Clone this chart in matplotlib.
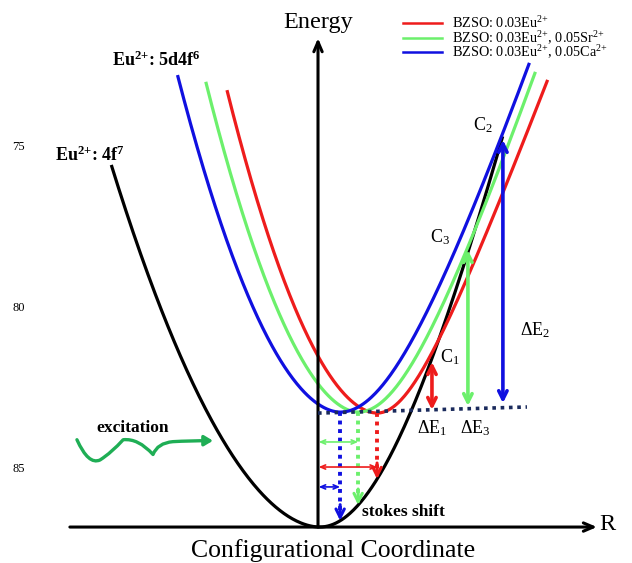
import numpy as np
import matplotlib
matplotlib.use("Agg")
import matplotlib.pyplot as plt
from matplotlib.path import Path
from matplotlib.patches import FancyArrowPatch

plt.rcParams['font.family'] = ['Liberation Serif', 'DejaVu Serif']
plt.rcParams['mathtext.fontset'] = 'custom'
plt.rcParams['mathtext.rm'] = 'Liberation Serif'
plt.rcParams['mathtext.it'] = 'Liberation Serif:italic'
plt.rcParams['mathtext.bf'] = 'Liberation Serif:bold'

SUP = r"$^{\mathrm{2}\mathrm{+}}$"
SUPB = r"$^{\mathbf{2}\mathbf{+}}$"

# ---- potential-energy curves (configurational coordinate R, energy E) ----
curve_labels = ["Eu" + SUP + ": 4f$^{7}$",
                "BZSO: 0.03Eu" + SUP,
                "BZSO: 0.03Eu" + SUP + ", 0.05Sr" + SUP,
                "BZSO: 0.03Eu" + SUP + ", 0.05Ca" + SUP]
curve_colors = ["black", "#ee1c1c", "#6cf06c", "#1010e0"]
min_r = [0.05, 1.84, 1.25, 0.69]
min_e = [86.87, 83.32, 83.29, 83.29]
# left branch: E = Emin - k*|dR|^p
k_left = [0.348, 0.571, 0.586, 0.505]
p_left = [1.86, 1.86, 1.84, 1.87]
# right branch: E = Emin - s*(sqrt(dR^2 + w^2) - w)
s_right = [4.5, 2.7, 3.0, 3.0]
w_right = [4.66, 1.75, 2.55, 2.98]
top_left = [75.59, 73.26, 73.00, 72.79]
top_right = [74.70, 72.94, 72.69, 72.41]

# ---- energy transfer arrows (crossing points C1, C3, C2) ----
de_r = [3.55, 4.67, 5.76]
de_top = [81.73, 78.24, 74.81]
de_bottom = [83.22, 83.10, 83.01]
de_colors = ["#ee1c1c", "#6cf06c", "#1010e0"]

# relaxed excited-state level (dotted)
level_r = [0.0, 6.51]
level_e = [83.32, 83.13]

# stokes shift markers (horizontal arrows), order: red, green, blue
shift_e = [85.00, 84.22, 85.62]

yticks = [75, 80, 85]


def rise(i, d):
    if d < 0:
        return k_left[i] * (-d) ** p_left[i]
    return s_right[i] * (np.sqrt(d ** 2 + w_right[i] ** 2) - w_right[i])


def branch(i, side):
    if side < 0:
        dmax = ((min_e[i] - top_left[i]) / k_left[i]) ** (1.0 / p_left[i])
        d = np.linspace(0, dmax, 200)
        return min_r[i] - d, min_e[i] - k_left[i] * d ** p_left[i]
    h = (min_e[i] - top_right[i]) / s_right[i] + w_right[i]
    dmax = np.sqrt(h ** 2 - w_right[i] ** 2)
    d = np.linspace(0, dmax, 200)
    return min_r[i] + d, min_e[i] - s_right[i] * (np.sqrt(d ** 2 + w_right[i] ** 2) - w_right[i])


def curve_e(i, r):
    return min_e[i] - rise(i, r - min_r[i])


fig = plt.figure(figsize=(6.32, 5.63), dpi=100)
ax = fig.add_axes([0, 0, 1, 1])
ax.set_xlim(-9.907, 9.782)
ax.set_ylim(87.99, 70.452)
for s in ax.spines.values():
    s.set_visible(False)
ax.set_xticks([])
ax.set_yticks(yticks)
ax.tick_params(axis='y', length=0, pad=-18, labelsize=9)

# curves
for i in range(4):
    rl, el = branch(i, -1)
    rr, er = branch(i, 1)
    r = np.concatenate([rl[::-1], rr[1:]])
    e = np.concatenate([el[::-1], er[1:]])
    ax.plot(r, e, color=curve_colors[i], lw=2.3, solid_capstyle='butt', zorder=3)

# axes arrows
ax.annotate('', xy=(0, 71.64), xytext=(0, 86.87),
            arrowprops=dict(arrowstyle='->,head_length=0.7,head_width=0.3',
                            lw=2.2, color='black', shrinkA=0, shrinkB=0), zorder=4)
ax.annotate('', xy=(8.69, 86.87), xytext=(-7.73, 86.87),
            arrowprops=dict(arrowstyle='->,head_length=0.7,head_width=0.3',
                            lw=2.2, color='black', shrinkA=0, shrinkB=0), zorder=4)

# relaxed level
ax.plot(level_r, level_e, color='#1a2a5c', lw=2.6, ls=(0, (1, 1.3)), zorder=5)

# energy transfer arrows
for r, t, b, c in zip(de_r, de_top, de_bottom, de_colors):
    ax.annotate('', xy=(r, b), xytext=(r, t),
                arrowprops=dict(arrowstyle='<->,head_length=0.6,head_width=0.3',
                                lw=2.6, color=c, shrinkA=0, shrinkB=0), zorder=6)

# emission (dotted) arrows down to the ground state curve and stokes shifts
for j, i in enumerate([1, 2, 3]):
    r0 = min_r[i]
    e_end = curve_e(0, r0)
    ax.plot([r0, r0], [min_e[i], e_end - 0.25], color=curve_colors[i], lw=2.8,
            ls=(0, (1, 1.2)), zorder=5)
    ax.annotate('', xy=(r0, e_end), xytext=(r0, e_end - 0.5),
                arrowprops=dict(arrowstyle='->,head_length=0.6,head_width=0.3',
                                lw=2.2, color=curve_colors[i], shrinkA=0, shrinkB=0), zorder=6)
    ax.annotate('', xy=(r0, shift_e[j]), xytext=(0.02, shift_e[j]),
                arrowprops=dict(arrowstyle='<->,head_length=0.35,head_width=0.15',
                                lw=1.2, color=curve_colors[i], shrinkA=0, shrinkB=0), zorder=6)

# excitation squiggle
wave = Path([(-7.51, 84.15), (-7.15, 84.95), (-6.79, 84.78),
             (-6.43, 84.55), (-6.07, 84.15),
             (-5.60, 84.10), (-5.14, 84.61),
             (-5.00, 84.25), (-4.52, 84.21),
             (-4.0, 84.18), (-3.27, 84.18)],
            [Path.MOVETO, Path.CURVE3, Path.CURVE3, Path.CURVE3, Path.CURVE3,
             Path.CURVE3, Path.CURVE3, Path.CURVE3, Path.CURVE3,
             Path.CURVE3, Path.CURVE3])
ax.add_patch(FancyArrowPatch(path=wave, arrowstyle='-|>,head_length=5,head_width=3',
                             lw=2.4, color='#1fae55', zorder=6))

# legend
leg_e = [71.17, 71.64, 72.07]
for i, e in zip([1, 2, 3], leg_e):
    ax.plot([2.65, 3.86], [e, e], color=curve_colors[i], lw=1.8)
    ax.text(4.17, e, curve_labels[i], fontsize=10.3, va='center', ha='left')

# labels
ax.text(0, 71.14, 'Energy', fontsize=17.5, ha='center', va='center')
ax.text(9.0, 86.80, 'R', fontsize=17.5, ha='center', va='center')
ax.text(0.47, 87.59, 'Configurational Coordinate', fontsize=18.5, ha='center', va='center')
ax.text(-6.42, 72.32, 'Eu' + SUPB + r': 5d4f$^{\mathbf{6}}$', fontsize=13,
        fontweight='bold', ha='left', va='center')
ax.text(-8.19, 75.28, 'Eu' + SUPB + r': 4f$^{\mathbf{7}}$', fontsize=13,
        fontweight='bold', ha='left', va='center')
ax.text(-5.79, 83.80, 'excitation', fontsize=12.5, fontweight='bold', ha='center', va='center')
ax.text(1.37, 86.40, 'stokes shift', fontsize=12.5, fontweight='bold', ha='left', va='center')
ax.text(4.11, 81.57, 'C$_1$', fontsize=13, ha='center', va='center')
ax.text(5.14, 74.35, 'C$_2$', fontsize=13, ha='center', va='center')
ax.text(3.80, 77.83, 'C$_3$', fontsize=13, ha='center', va='center')
ax.text(3.55, 83.79, 'ΔE$_1$', fontsize=13, ha='center', va='center')
ax.text(4.89, 83.79, 'ΔE$_3$', fontsize=13, ha='center', va='center')
ax.text(6.76, 80.73, 'ΔE$_2$', fontsize=13, ha='center', va='center')

fig.savefig('out.png', dpi=100)
